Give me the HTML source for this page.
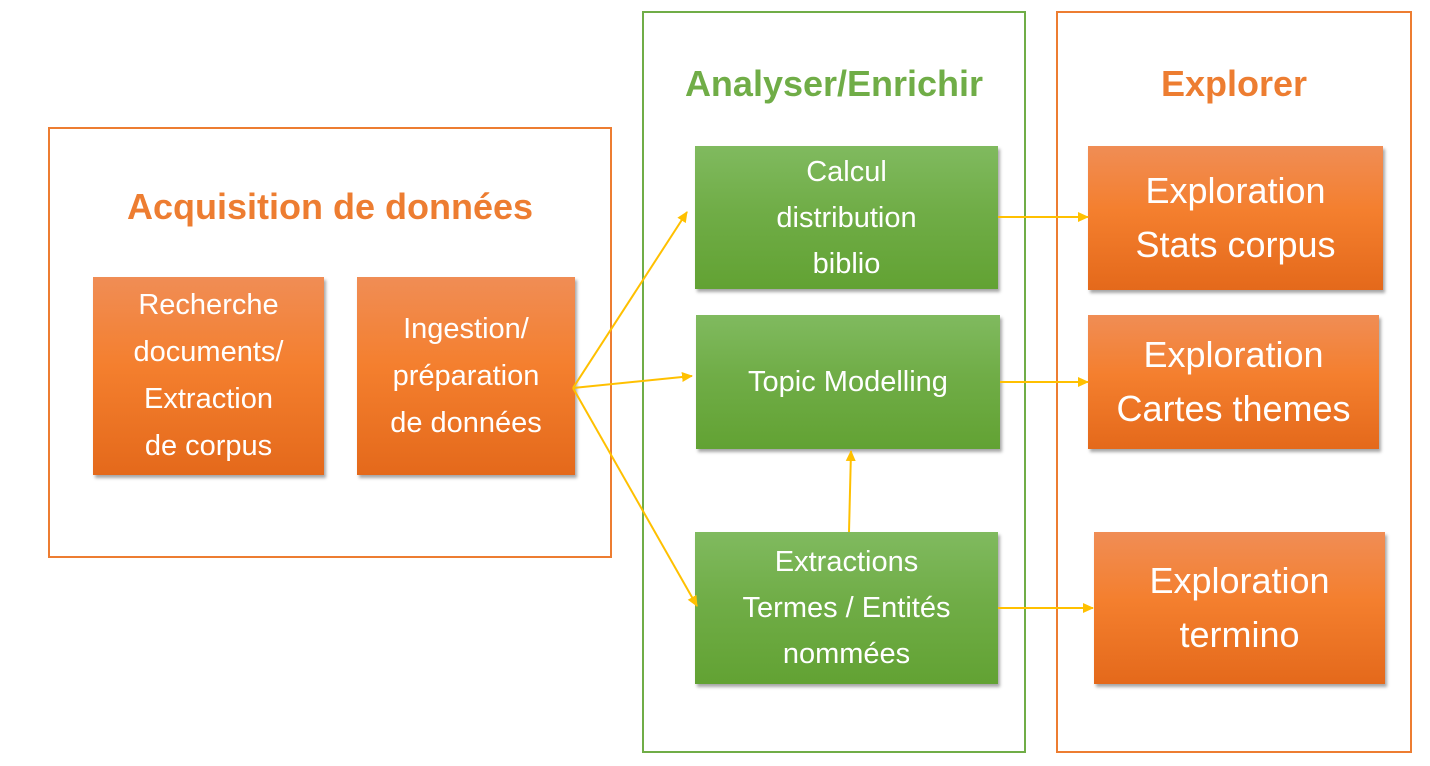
<!DOCTYPE html>
<html><head><meta charset="utf-8"><style>
body{margin:0;width:1430px;height:766px;background:#fff;position:relative;overflow:hidden;font-family:"Liberation Sans",sans-serif}
.f{position:absolute;box-sizing:border-box;border:2px solid #ED7D31}
.g{border-color:#70AD47}
.t{position:absolute;font-weight:bold;font-size:36px;text-align:center;white-space:nowrap}
.b{position:absolute;display:flex;align-items:center;justify-content:center;text-align:center;color:#fff;box-shadow:2px 3px 3px rgba(0,0,0,.35);white-space:nowrap}
.o{background:linear-gradient(#F08D55,#F47F2E 45%,#E4691B)}
.gr{background:linear-gradient(#80BA5F,#70AD47 45%,#62A233)}
</style></head><body>
<div class="f" style="left:48px;top:127px;width:564px;height:431px"></div>
<div class="f g" style="left:642px;top:11px;width:384px;height:742px"></div>
<div class="f" style="left:1056px;top:11px;width:356px;height:742px"></div>
<div class="t" style="left:80px;width:500px;top:186px;color:#ED7D31">Acquisition de données</div>
<div class="t" style="left:644px;width:380px;top:63px;color:#70AD47">Analyser/Enrichir</div>
<div class="t" style="left:1058px;width:352px;top:63px;color:#ED7D31">Explorer</div>
<div class="b o" style="left:93px;top:277px;width:231px;height:198px;font-size:29px;line-height:47px">Recherche<br>documents/<br>Extraction<br>de corpus</div>
<div class="b o" style="left:357px;top:277px;width:218px;height:198px;font-size:29px;line-height:47px">Ingestion/<br>préparation<br>de données</div>
<div class="b gr" style="left:695px;top:146px;width:303px;height:143px;font-size:29px;line-height:46px">Calcul<br>distribution<br>biblio</div>
<div class="b gr" style="left:696px;top:315px;width:304px;height:134px;font-size:29px">Topic Modelling</div>
<div class="b gr" style="left:695px;top:532px;width:303px;height:152px;font-size:29px;line-height:46px">Extractions<br>Termes / Entités<br>nommées</div>
<div class="b o" style="left:1088px;top:146px;width:295px;height:144px;font-size:36px;line-height:54px">Exploration<br>Stats corpus</div>
<div class="b o" style="left:1088px;top:315px;width:291px;height:134px;font-size:36px;line-height:54px">Exploration<br>Cartes themes</div>
<div class="b o" style="left:1094px;top:532px;width:291px;height:152px;font-size:36px;line-height:54px">Exploration<br>termino</div>
<svg width="1430" height="766" style="position:absolute;left:0;top:0">
<defs><marker id="a" markerWidth="11" markerHeight="10" refX="10" refY="5" orient="auto" markerUnits="userSpaceOnUse" viewBox="0 0 11 10"><path d="M0,0L11,5L0,10z" fill="#FFC000"/></marker></defs>
<g stroke="#FFC000" stroke-width="2" fill="none" marker-end="url(#a)">
<line x1="573" y1="388" x2="687" y2="212"/>
<line x1="573" y1="388" x2="692" y2="376"/>
<line x1="573" y1="388" x2="697" y2="606"/>
<line x1="998" y1="217" x2="1088" y2="217"/>
<line x1="1000" y1="382" x2="1088" y2="382"/>
<line x1="998" y1="608" x2="1093" y2="608"/>
<line x1="849" y1="532" x2="851" y2="451"/>
</g></svg>
</body></html>
